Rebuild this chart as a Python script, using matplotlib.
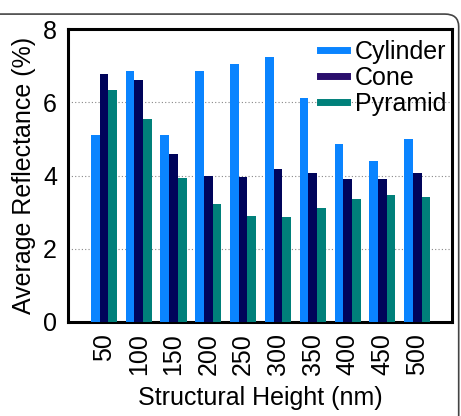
import matplotlib
matplotlib.use("Agg")
import matplotlib.pyplot as plt
import numpy as np
from matplotlib.lines import Line2D
from matplotlib.patches import FancyBboxPatch

plt.rcParams['font.family'] = ['Liberation Sans', 'DejaVu Sans']

heights = ['50', '100', '150', '200', '250', '300', '350', '400', '450', '500']
cylinder = [5.11, 6.86, 5.11, 6.86, 7.04, 7.23, 6.11, 4.87, 4.40, 5.00]
cone = [6.78, 6.60, 4.58, 3.99, 3.97, 4.17, 4.07, 3.91, 3.90, 4.08]
pyramid = [6.34, 5.55, 3.93, 3.22, 2.90, 2.88, 3.11, 3.37, 3.47, 3.42]

c_cyl = '#0A84FF'
c_cone = '#00045A'
c_pyr = '#00807A'

fig = plt.figure(figsize=(4.61, 4.16), dpi=100)
ax = fig.add_axes([0.1475, 0.226, 0.833, 0.704])

x = np.arange(len(heights))
w = 0.25
ax.bar(x - w, cylinder, w, color=c_cyl, zorder=3)
ax.bar(x, cone, w, color=c_cone, zorder=3)
ax.bar(x + w, pyramid, w, color=c_pyr, zorder=3)

ax.set_xlim(-1.03, 10.0)
ax.set_ylim(0, 8)
ax.set_yticks([0, 2, 4, 6, 8])
ax.set_xticks(x)
ax.set_xticklabels(heights, rotation=90)
ax.tick_params(length=0, labelsize=18, pad=8)
ax.yaxis.grid(True, linestyle=(0, (1, 2)), color='#888888', linewidth=0.8, zorder=0)
for s in ax.spines.values():
    s.set_linewidth(2.2)
ax.set_ylabel('Average Reflectance (%)', fontsize=18, labelpad=5)
ax.set_xlabel('Structural Height (nm)', fontsize=18, labelpad=8)

handles = [Line2D([], [], color=c_cyl, lw=5),
           Line2D([], [], color='#2A0E6C', lw=5),
           Line2D([], [], color=c_pyr, lw=5)]
ax.legend(handles, ['Cylinder', 'Cone', 'Pyramid'], loc='upper right', frameon=False,
          fontsize=18, handlelength=1.1, handletextpad=0.3, labelspacing=0.08,
          borderaxespad=0.1, bbox_to_anchor=(1.018, 1.005))

border = FancyBboxPatch((-0.1, -0.1), 1.095, 1.083 - (7/416),
                        boxstyle='round,pad=0,rounding_size=0.03',
                        transform=fig.transFigure, fill=False, edgecolor='#444444',
                        linewidth=1.2, clip_on=False)
fig.patches.append(border)

fig.savefig('out.png', dpi=100)
